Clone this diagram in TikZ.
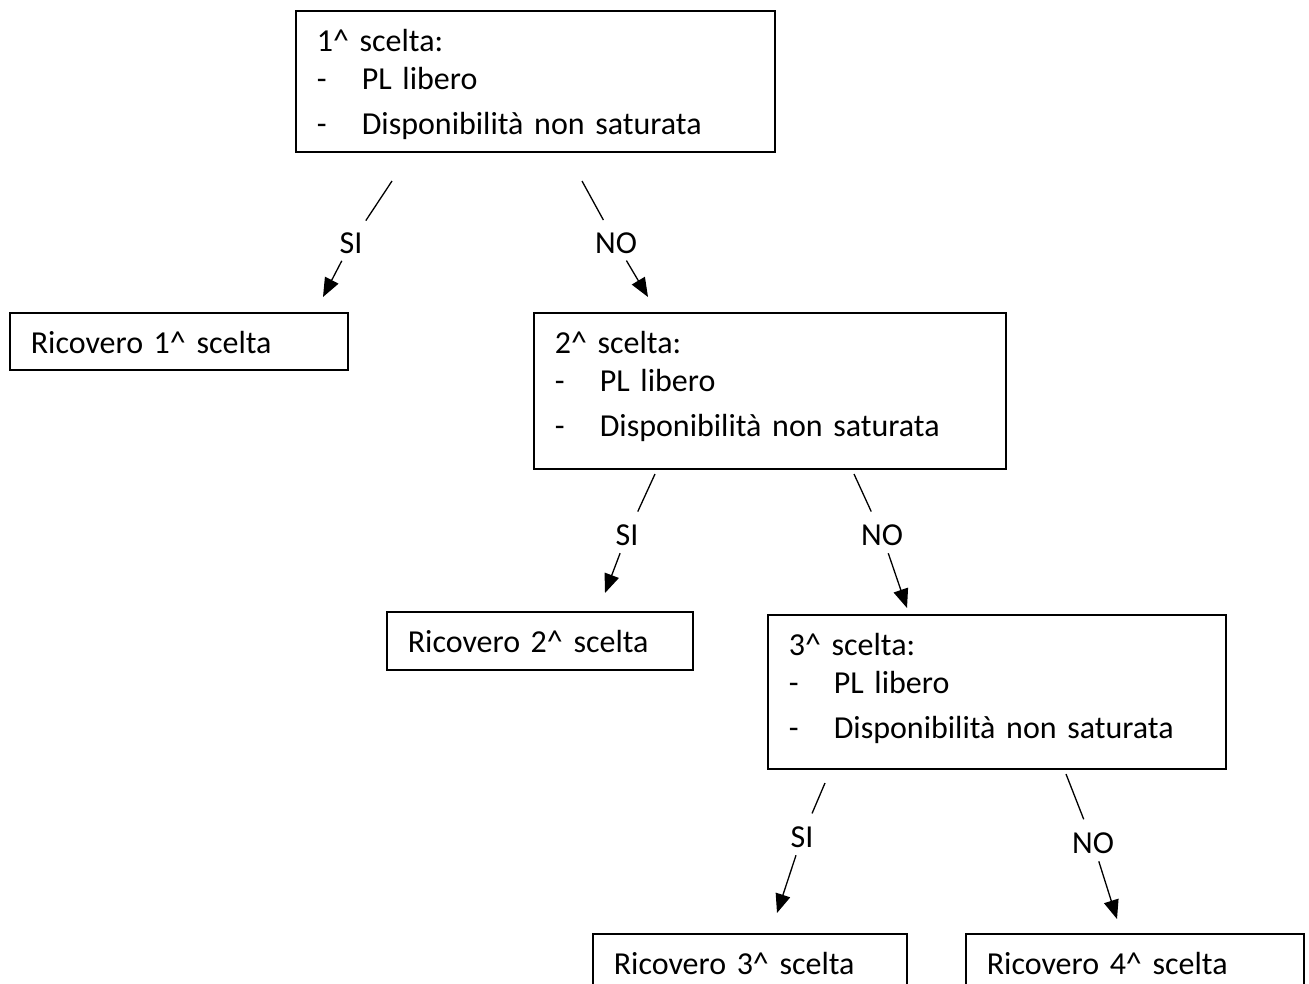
\documentclass[tikz,border=0pt]{standalone}
\usepackage{fontspec}
\setmainfont{Carlito}
\usetikzlibrary{arrows.meta}
\tikzset{
  box/.style={draw, line width=1.6pt, inner xsep=21pt, inner ysep=8pt, align=left, text height=33pt, anchor=north west},
  lbl/.style={inner sep=0pt},
  conn/.style={line width=1.3pt},
  arr/.style={line width=1.3pt, -{Triangle[length=19pt,width=15pt]}}
}
\newcommand{\voce}[1]{\makebox[45pt][l]{-}#1}

\begin{document}
\begin{tikzpicture}[x=1pt,y=-1pt,font=\fontsize{32}{38}\selectfont]
\clip (0,0) rectangle (1309,983);
% scelte
\node[box, text width=437pt, text depth=92pt] (s1) at (295,10) {1\textasciicircum{} scelta:\\ \voce{PL libero}\\[7pt] \voce{Disponibilità non saturata}};
\node[box, text width=430pt, text depth=107pt] (s2) at (533,312) {2\textasciicircum{} scelta:\\ \voce{PL libero}\\[7pt] \voce{Disponibilità non saturata}};
\node[box, text width=416pt, text depth=105pt] (s3) at (767,614) {3\textasciicircum{} scelta:\\ \voce{PL libero}\\[7pt] \voce{Disponibilità non saturata}};
% ricoveri
\node[box, text width=296pt, text depth=8pt] (r1) at (9,312) {Ricovero 1\textasciicircum{} scelta};
\node[box, text width=264pt, text depth=9pt] (r2) at (386,611) {Ricovero 2\textasciicircum{} scelta};
\node[box, text width=272pt, text depth=20pt] (r3) at (592,933) {Ricovero 3\textasciicircum{} scelta};
\node[box, text width=296pt, text depth=20pt] (r4) at (965,933) {Ricovero 4\textasciicircum{} scelta};
% etichette
\node[lbl] (si1) at (351,243) {SI};
\node[lbl] (no1) at (616,243) {NO};
\node[lbl] (si2) at (627,535) {SI};
\node[lbl] (no2) at (882,535) {NO};
\node[lbl] (si3) at (802,837) {SI};
\node[lbl] (no3) at (1093,843) {NO};
% estremi liberi
\coordinate (s1a) at (392,181);
\coordinate (s1b) at (582,181);
\coordinate (s2a) at (655,474);
\coordinate (s2b) at (854,474);
\coordinate (s3a) at (825,783);
\coordinate (s3b) at (1066,774);
\coordinate (r1t) at (323,297);
\coordinate (s2t) at (648,297);
\coordinate (r2t) at (605,593);
\coordinate (s3t) at (907,608);
\coordinate (r3t) at (777,913);
\coordinate (r4t) at (1117,919);
\draw[conn, shorten >=14pt] (s1a) -- (si1);
\draw[arr, shorten <=8pt] (si1) -- (r1t);
\draw[conn, shorten >=14pt] (s1b) -- (no1);
\draw[arr, shorten <=8pt] (no1) -- (s2t);
\draw[conn, shorten >=14pt] (s2a) -- (si2);
\draw[arr, shorten <=8pt] (si2) -- (r2t);
\draw[conn, shorten >=14pt] (s2b) -- (no2);
\draw[arr, shorten <=8pt] (no2) -- (s3t);
\draw[conn, shorten >=14pt] (s3a) -- (si3);
\draw[arr, shorten <=8pt] (si3) -- (r3t);
\draw[conn, shorten >=14pt] (s3b) -- (no3);
\draw[arr, shorten <=8pt] (no3) -- (r4t);
\end{tikzpicture}
\end{document}
